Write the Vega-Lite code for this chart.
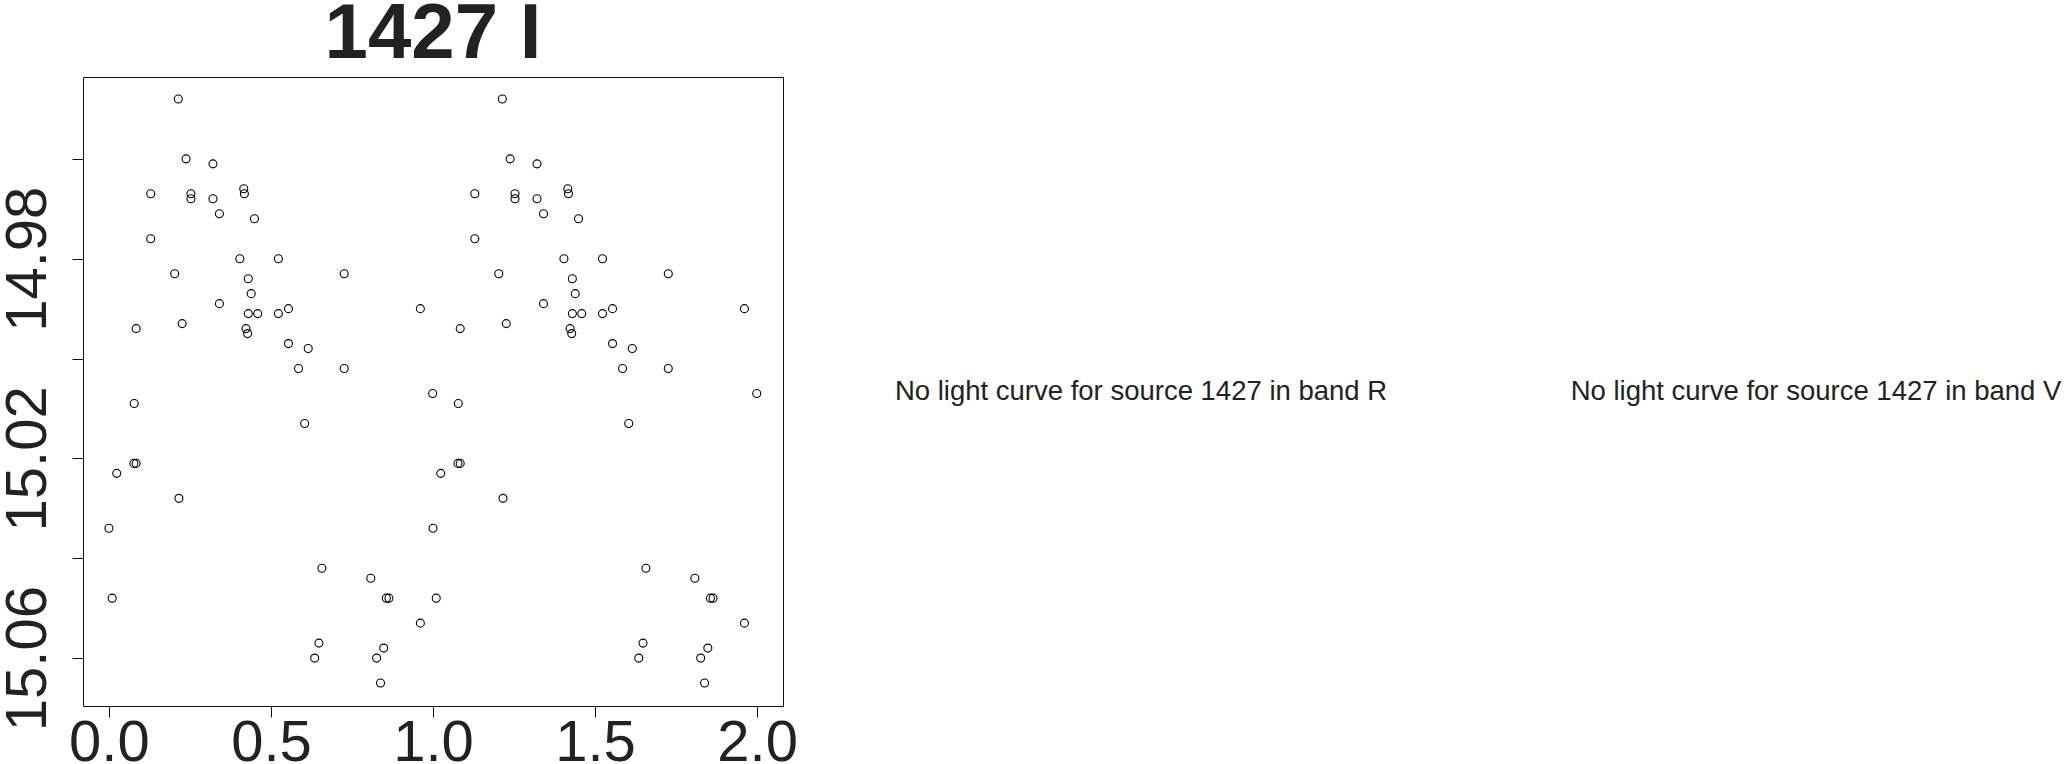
{
  "$schema": "https://vega.github.io/schema/vega-lite/v6.json",
  "background": "white",
  "autosize": {"type": "none"},
  "padding": {"left": 83, "top": 0, "right": 1981, "bottom": 764},
  "bounds": "flush",
  "spacing": 0,
  "config": {"font": "Liberation Sans", "view": {"stroke": null}},
  "datasets": {
    "heading": [{"label": "1427 I"}],
    "pts": [
      {"phase": 0.214, "mag": 14.948}, {"phase": 0.238, "mag": 14.960}, {"phase": 0.321, "mag": 14.961},
      {"phase": 0.129, "mag": 14.967}, {"phase": 0.253, "mag": 14.967}, {"phase": 0.253, "mag": 14.968},
      {"phase": 0.321, "mag": 14.968}, {"phase": 0.416, "mag": 14.966}, {"phase": 0.418, "mag": 14.967},
      {"phase": 0.341, "mag": 14.971}, {"phase": 0.449, "mag": 14.972}, {"phase": 0.129, "mag": 14.976},
      {"phase": 0.404, "mag": 14.980}, {"phase": 0.523, "mag": 14.980}, {"phase": 0.203, "mag": 14.983},
      {"phase": 0.726, "mag": 14.983}, {"phase": 0.430, "mag": 14.984}, {"phase": 0.439, "mag": 14.987},
      {"phase": 0.341, "mag": 14.989}, {"phase": 0.961, "mag": 14.990}, {"phase": 0.430, "mag": 14.991},
      {"phase": 0.459, "mag": 14.991}, {"phase": 0.523, "mag": 14.991}, {"phase": 0.554, "mag": 14.990},
      {"phase": 0.084, "mag": 14.994}, {"phase": 0.226, "mag": 14.993}, {"phase": 0.423, "mag": 14.994},
      {"phase": 0.428, "mag": 14.995}, {"phase": 0.554, "mag": 14.997}, {"phase": 0.615, "mag": 14.998},
      {"phase": 0.585, "mag": 15.002}, {"phase": 0.726, "mag": 15.002}, {"phase": 0.999, "mag": 15.007},
      {"phase": 0.078, "mag": 15.009}, {"phase": 0.604, "mag": 15.013}, {"phase": 0.077, "mag": 15.021},
      {"phase": 0.084, "mag": 15.021}, {"phase": 0.024, "mag": 15.023}, {"phase": 0.216, "mag": 15.028},
      {"phase": 0.000, "mag": 15.034}, {"phase": 0.657, "mag": 15.042}, {"phase": 0.808, "mag": 15.044},
      {"phase": 0.856, "mag": 15.048}, {"phase": 0.864, "mag": 15.048}, {"phase": 0.010, "mag": 15.048},
      {"phase": 0.961, "mag": 15.053}, {"phase": 0.648, "mag": 15.057}, {"phase": 0.635, "mag": 15.060},
      {"phase": 0.848, "mag": 15.058}, {"phase": 0.826, "mag": 15.060}, {"phase": 0.838, "mag": 15.065},
      {"phase": 1.214, "mag": 14.948}, {"phase": 1.238, "mag": 14.960}, {"phase": 1.321, "mag": 14.961},
      {"phase": 1.129, "mag": 14.967}, {"phase": 1.253, "mag": 14.967}, {"phase": 1.253, "mag": 14.968},
      {"phase": 1.321, "mag": 14.968}, {"phase": 1.416, "mag": 14.966}, {"phase": 1.418, "mag": 14.967},
      {"phase": 1.341, "mag": 14.971}, {"phase": 1.449, "mag": 14.972}, {"phase": 1.129, "mag": 14.976},
      {"phase": 1.404, "mag": 14.980}, {"phase": 1.523, "mag": 14.980}, {"phase": 1.203, "mag": 14.983},
      {"phase": 1.726, "mag": 14.983}, {"phase": 1.430, "mag": 14.984}, {"phase": 1.439, "mag": 14.987},
      {"phase": 1.341, "mag": 14.989}, {"phase": 1.961, "mag": 14.990}, {"phase": 1.430, "mag": 14.991},
      {"phase": 1.459, "mag": 14.991}, {"phase": 1.523, "mag": 14.991}, {"phase": 1.554, "mag": 14.990},
      {"phase": 1.084, "mag": 14.994}, {"phase": 1.226, "mag": 14.993}, {"phase": 1.423, "mag": 14.994},
      {"phase": 1.428, "mag": 14.995}, {"phase": 1.554, "mag": 14.997}, {"phase": 1.615, "mag": 14.998},
      {"phase": 1.585, "mag": 15.002}, {"phase": 1.726, "mag": 15.002}, {"phase": 1.999, "mag": 15.007},
      {"phase": 1.078, "mag": 15.009}, {"phase": 1.604, "mag": 15.013}, {"phase": 1.077, "mag": 15.021},
      {"phase": 1.084, "mag": 15.021}, {"phase": 1.024, "mag": 15.023}, {"phase": 1.216, "mag": 15.028},
      {"phase": 1.000, "mag": 15.034}, {"phase": 1.657, "mag": 15.042}, {"phase": 1.808, "mag": 15.044},
      {"phase": 1.856, "mag": 15.048}, {"phase": 1.864, "mag": 15.048}, {"phase": 1.010, "mag": 15.048},
      {"phase": 1.961, "mag": 15.053}, {"phase": 1.648, "mag": 15.057}, {"phase": 1.635, "mag": 15.060},
      {"phase": 1.848, "mag": 15.058}, {"phase": 1.826, "mag": 15.060}, {"phase": 1.838, "mag": 15.065}
    ],
    "msgs": [
      {"band": "R", "msg": "No light curve for source 1427 in band R"},
      {"band": "V", "msg": "No light curve for source 1427 in band V"}
    ]
  },
  "vconcat": [
    {
      "width": 700,
      "height": 77,
      "view": {"stroke": null},
      "data": {"name": "heading"},
      "mark": {"type": "text", "fontSize": 78, "fontWeight": "bold", "font": "Liberation Sans", "color": "#222222", "align": "center", "baseline": "alphabetic", "dy": 19.5},
      "encoding": {"text": {"field": "label", "type": "nominal"}}
    },
    {
      "bounds": "flush",
      "spacing": 41,
      "hconcat": [
        {
          "width": 700,
          "height": 629,
          "view": {"stroke": "#111111", "strokeWidth": 1},
          "data": {"name": "pts"},
          "mark": {"type": "point", "shape": "circle", "filled": false, "size": 64, "stroke": "#000000", "strokeWidth": 1.1, "opacity": 1},
          "encoding": {
            "x": {
              "field": "phase", "type": "quantitative",
              "scale": {"domain": [-0.08, 2.08], "nice": false, "zero": false},
              "axis": {"values": [0, 0.5, 1, 1.5, 2], "format": ".1f", "domain": false, "grid": false, "tickSize": 11, "tickColor": "#111111", "tickWidth": 1, "labelFontSize": 58, "labelFont": "Liberation Sans", "labelColor": "#222222", "labelBaseline": "alphabetic", "labelPadding": 43, "labelAngle": 0, "labelAlign": "center", "labelOverlap": false, "labelFlush": false, "title": null}
            },
            "y": {
              "field": "mag", "type": "quantitative",
              "scale": {"domain": [14.9436, 15.0696], "reverse": true, "nice": false, "zero": false},
              "axis": {"values": [14.96, 14.98, 15.0, 15.02, 15.04, 15.06], "labelExpr": "(abs(datum.value-14.98)<0.001 || abs(datum.value-15.02)<0.001 || abs(datum.value-15.06)<0.001) ? format(datum.value, '.2f') : ''", "domain": false, "grid": false, "tickSize": 11, "tickColor": "#111111", "tickWidth": 1, "labelFontSize": 58, "labelFont": "Liberation Sans", "labelColor": "#222222", "labelAngle": -90, "labelAlign": "center", "labelBaseline": "alphabetic", "labelPadding": 27, "labelOverlap": false, "labelFlush": false, "title": null}
            }
          }
        },
        {
          "width": 634,
          "height": 629,
          "view": {"stroke": null},
          "data": {"name": "msgs"},
          "transform": [{"filter": "datum.band === 'R'"}],
          "mark": {"type": "text", "fontSize": 27.5, "font": "Liberation Sans", "color": "#222222", "align": "center", "baseline": "middle"},
          "encoding": {"text": {"field": "msg", "type": "nominal"}}
        },
        {
          "width": 634,
          "height": 629,
          "view": {"stroke": null},
          "data": {"name": "msgs"},
          "transform": [{"filter": "datum.band === 'V'"}],
          "mark": {"type": "text", "fontSize": 27.5, "font": "Liberation Sans", "color": "#222222", "align": "center", "baseline": "middle"},
          "encoding": {"text": {"field": "msg", "type": "nominal"}}
        }
      ]
    }
  ]
}
